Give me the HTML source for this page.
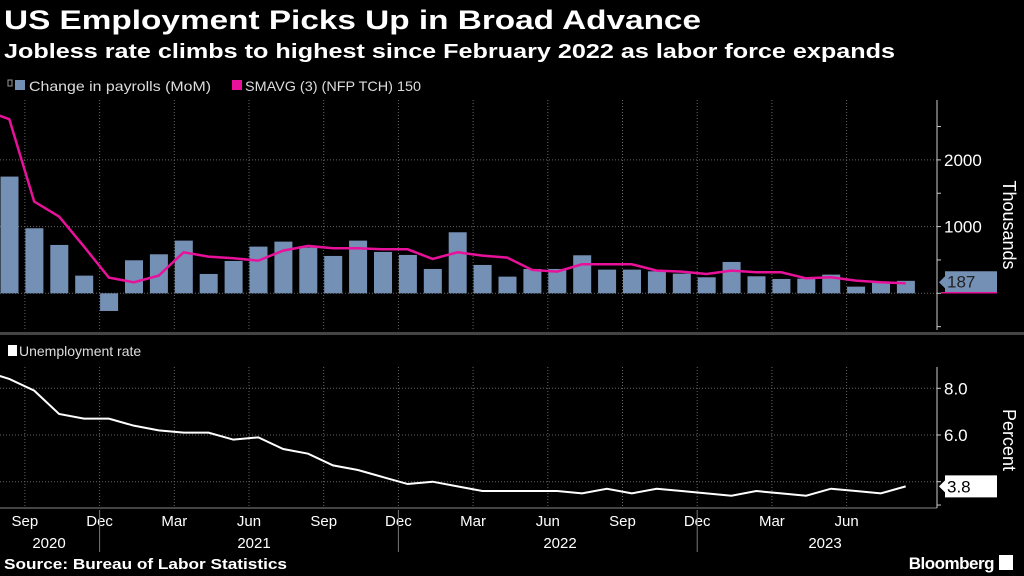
<!DOCTYPE html>
<html><head><meta charset="utf-8"><style>
html,body{margin:0;padding:0;background:#000;width:1024px;height:576px;overflow:hidden}
svg{display:block;font-family:"Liberation Sans",sans-serif}
</style></head><body>
<svg id="chart" width="1024" height="576" viewBox="0 0 1024 576">
<text x="4" y="29" fill="#fff" font-size="27" font-weight="bold" textLength="697" lengthAdjust="spacingAndGlyphs">US Employment Picks Up in Broad Advance</text>
<text x="4" y="58" fill="#fff" font-size="20" font-weight="bold" textLength="891" lengthAdjust="spacingAndGlyphs">Jobless rate climbs to highest since February 2022 as labor force expands</text>
<g>
<rect x="8" y="80" width="4" height="6" fill="none" stroke="#999" stroke-width="1"/>
<rect x="15" y="80" width="10" height="10" fill="#7590b5"/>
<text x="29" y="91" fill="#ddd" font-size="14" textLength="182" lengthAdjust="spacingAndGlyphs">Change in payrolls (MoM)</text>
<rect x="232" y="80" width="10" height="10" fill="#e8119a"/>
<text x="245" y="91" fill="#ddd" font-size="14" textLength="176" lengthAdjust="spacingAndGlyphs">SMAVG (3) (NFP TCH) 150</text>
</g>
<g id="topPanel"></g>
<rect x="0" y="332" width="1024" height="3" fill="#444"/>
<rect x="8" y="345" width="9" height="11" fill="#fff"/>
<text x="19" y="356" fill="#ddd" font-size="14">Unemployment rate</text>
<g id="botPanel"></g>
<text x="4" y="569" fill="#fff" font-size="15" font-weight="bold" textLength="283" lengthAdjust="spacingAndGlyphs">Source: Bureau of Labor Statistics</text>
<text x="994" y="569" fill="#fff" font-size="17" font-weight="bold" text-anchor="end" letter-spacing="-0.5">Bloomberg</text>
<rect x="999" y="555" width="14" height="15" fill="#fff"/>
</svg>
<script>
const months = ["Aug20","Sep20","Oct20","Nov20","Dec20","Jan21","Feb21","Mar21","Apr21","May21","Jun21","Jul21","Aug21","Sep21","Oct21","Nov21","Dec21","Jan22","Feb22","Mar22","Apr22","May22","Jun22","Jul22","Aug22","Sep22","Oct22","Nov22","Dec22","Jan23","Feb23","Mar23","Apr23","May23","Jun23","Jul23","Aug23"];
const payrolls = [1750,975,725,265,-265,495,585,790,290,485,700,775,685,560,790,620,575,365,915,425,250,365,365,570,355,355,330,295,240,470,255,215,220,280,100,175,187];
const smavg = [2610,1375,1150,700,235,165,265,615,550,525,490,640,710,675,675,660,660,515,615,565,535,350,325,435,435,435,340,325,290,340,315,315,225,240,190,165,150];
const unemp = [8.4,7.9,6.9,6.7,6.7,6.4,6.2,6.1,6.1,5.8,5.9,5.4,5.2,4.7,4.5,4.2,3.9,4.0,3.8,3.6,3.6,3.6,3.6,3.5,3.7,3.5,3.7,3.6,3.5,3.4,3.6,3.5,3.4,3.7,3.6,3.5,3.8];
const payTicks = [2000,1000,0];
const unTicks = [8.0,6.0,4.0];
const quarterLabels = ["Sep","Dec","Mar","Jun","Sep","Dec","Mar","Jun","Sep","Dec","Mar","Jun"];
const yearLabels = ["2020","2021","2022","2023"];

const NS="http://www.w3.org/2000/svg";
function mk(p,t,a){const e=document.createElementNS(NS,t);for(const k in a)e.setAttribute(k,a[k]);p.appendChild(e);return e;}
const STEP=24.9, AX=937;
const xStart=i=>i*STEP;
const xMid=i=>i*STEP+9.3;
const yPay=v=>293.3-v*0.0667;
const yUn=v=>388.3-(v-8)*23.35;
const topG=document.getElementById('topPanel'), botG=document.getElementById('botPanel');

quarterLabels.forEach((q,k)=>{
  const x=xStart(1+3*k);
  const g1=mk(topG,'line',{x1:x,x2:x,y1:100,y2:330,stroke:'#666','stroke-dasharray':'1 2'});
  
  
  const g2=mk(botG,'line',{x1:x,x2:x,y1:367,y2:507,stroke:'#666','stroke-dasharray':'1 2'});
  
  
  const t=mk(botG,'text',{x:x,y:526,fill:'#fff','font-size':15,'text-anchor':'middle'});
  t.textContent=q;
  
  
});
const yearX=[49,254,560,825];
yearLabels.forEach((y,k)=>{
  const t=mk(botG,'text',{x:yearX[k],y:548,fill:'#fff','font-size':15,'text-anchor':'middle'});
  t.textContent=y;
  
  
});
[4,16,28].forEach(i=>{
  const x=xStart(i);
  const l=mk(botG,'line',{x1:x,x2:x,y1:510,y2:552,stroke:'#777'});
  
  
});
mk(botG,'line',{x1:0,x2:AX,y1:508,y2:508,stroke:'#888'});

payTicks.forEach(v=>{
  const y=yPay(v);
  const g=mk(topG,'line',{x1:0,x2:AX,y1:y,y2:y,stroke:'#666','stroke-dasharray':'1 2'});
  
  
  if(v!==0){
    const t=mk(topG,'text',{x:944,y:y+6,fill:'#fff','font-size':17});
    t.textContent=String(v);
    
    
  }
});
mk(topG,'line',{x1:AX,x2:AX,y1:100,y2:330,stroke:'#ccc'});
[2500,2000,1500,1000,500,0,-500].forEach(v=>mk(topG,'line',{x1:AX,x2:AX+4,y1:yPay(v),y2:yPay(v),stroke:'#ccc'}));
const tt=mk(topG,'text',{x:1003,y:225,fill:'#fff','font-size':18,'text-anchor':'middle',transform:'rotate(90 1003 225)'});
tt.textContent='Thousands';



payrolls.forEach((v,i)=>{
  const y0=yPay(0),y1=yPay(v);
  const b=mk(topG,'rect',{x:xStart(i)+0.5,y:Math.min(y0,y1),width:18,height:Math.abs(y1-y0),fill:'#7590b5'});
  
  
});
const sp=mk(topG,'polyline',{points:'-16,110 '+smavg.map((v,i)=>xMid(i)+','+Math.max(100,yPay(v))).join(' '),fill:'none',stroke:'#e8119a','stroke-width':2.5});


const y0=yPay(0), bt=y0-22, bm=y0-11;
const lp=mk(topG,'polygon',{points:`${AX+8},${y0} ${AX+8},${bm+6} ${AX+2},${bm} ${AX+8},${bm-6} ${AX+8},${bt} 997,${bt} 997,${y0}`,fill:'#7590b5'});


mk(topG,'line',{x1:AX+4,x2:997,y1:y0-0.5,y2:y0-0.5,stroke:'#e8119a','stroke-width':1.5});
const lt=mk(topG,'text',{x:947,y:y0-6,fill:'#222','font-size':17});
lt.textContent=String(payrolls[payrolls.length-1]);



unTicks.forEach(v=>{
  const y=yUn(v);
  const g=mk(botG,'line',{x1:0,x2:AX,y1:y,y2:y,stroke:'#666','stroke-dasharray':'1 2'});
  
  
  if(v!==4){
    const t=mk(botG,'text',{x:944,y:y+6,fill:'#fff','font-size':17});
    t.textContent=v.toFixed(1);
    
    
  }
});
mk(botG,'line',{x1:AX,x2:AX,y1:367,y2:508,stroke:'#ccc'});
[8,6,4,3].forEach(v=>mk(botG,'line',{x1:AX,x2:AX+4,y1:yUn(v),y2:yUn(v),stroke:'#ccc'}));
const pt=mk(botG,'text',{x:1003,y:440,fill:'#fff','font-size':18,'text-anchor':'middle',transform:'rotate(90 1003 440)'});
pt.textContent='Percent';


const ul=mk(botG,'polyline',{points:'-16,371 '+unemp.map((v,i)=>xMid(i)+','+yUn(v)).join(' '),fill:'none',stroke:'#fff','stroke-width':2});


const uy=yUn(unemp[unemp.length-1]);
const ub=mk(botG,'polygon',{points:`${AX+8},${uy+11} ${AX+8},${uy+6} ${AX+2},${uy} ${AX+8},${uy-6} ${AX+8},${uy-11} 997,${uy-11} 997,${uy+11}`,fill:'#fff'});


const ut=mk(botG,'text',{x:947,y:uy+6,fill:'#000','font-size':17});
ut.textContent=unemp[unemp.length-1].toFixed(1);


</script>
</body></html>
